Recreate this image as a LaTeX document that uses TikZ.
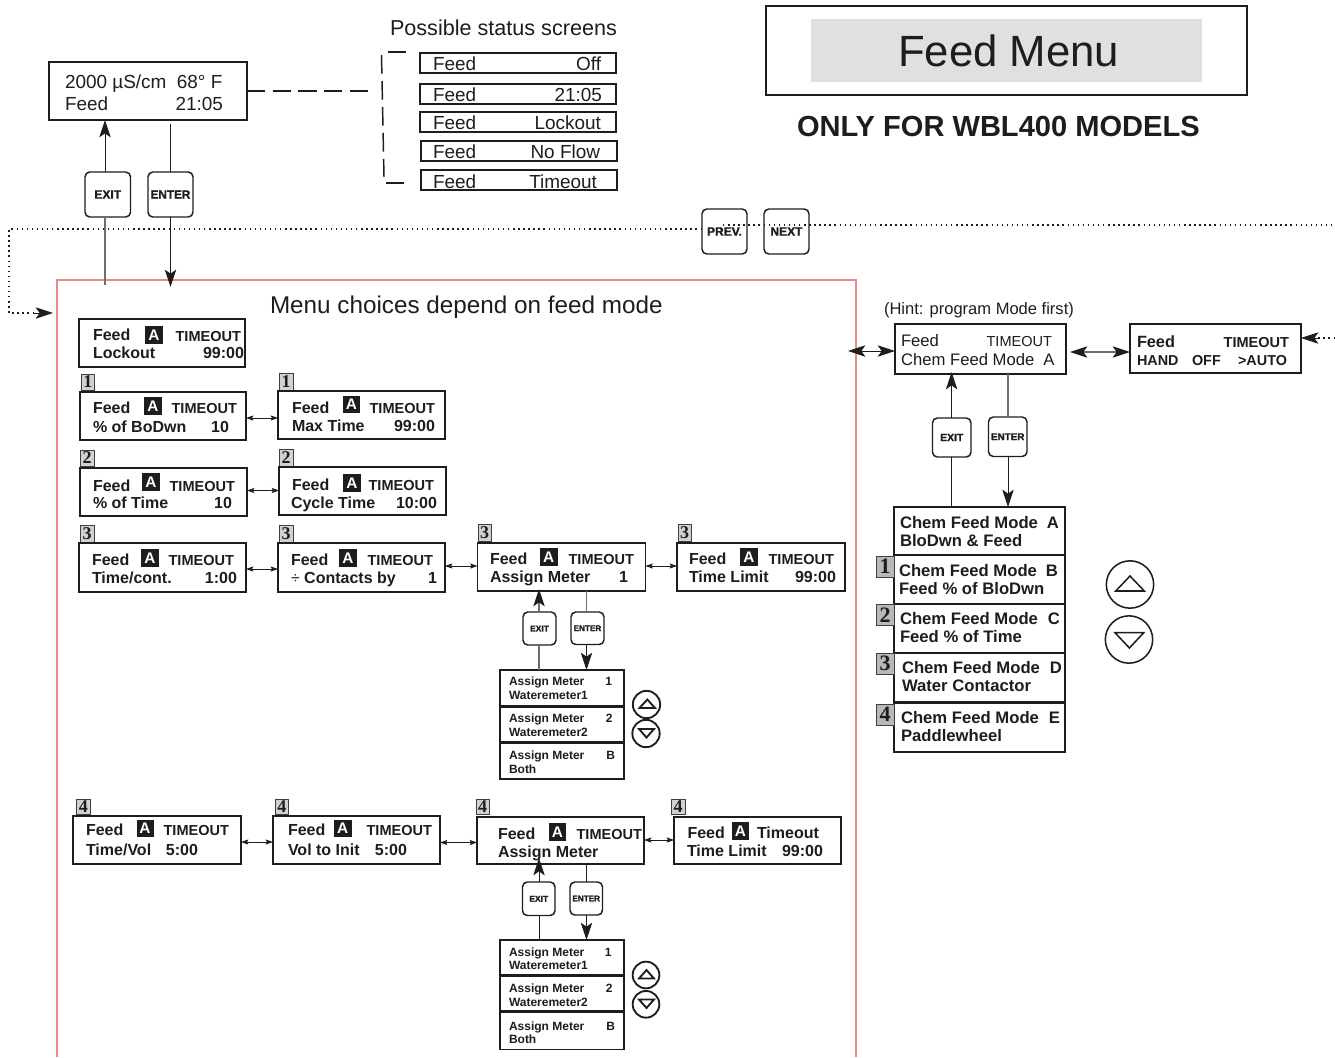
\documentclass[tikz,border=0pt]{standalone}
\usepackage{fontspec}
\setmainfont{Liberation Sans}
\newfontfamily\tagfont{Liberation Serif}
\newfontfamily\btnfont{Liberation Sans}[BoldFeatures={FakeBold=1.6}]
\usetikzlibrary{arrows.meta}
\definecolor{redbox}{HTML}{E98A86}
\definecolor{wiregray}{HTML}{6E6E6E}
\definecolor{ink}{HTML}{1E1C1C}
\newcounter{tn}
\tikzset{
  lcd/.style={draw=ink,line width=1.1pt,inset sep,anchor=north west},
  inset sep/.style={inner sep=0pt,outer sep=0pt},
  lbl/.style={inner sep=0pt,outer sep=0pt,text=ink,anchor=base west},
  rbl/.style={inner sep=0pt,outer sep=0pt,text=ink,anchor=base east},
  bt/.style={font=\fontsize{12}{12}\selectfont\bfseries},
  bs/.style={font=\fontsize{10.9}{12}\selectfont\bfseries},
  bl/.style={font=\fontsize{9}{10}\selectfont\bfseries},
  st/.style={font=\fontsize{14.2}{16}\selectfont},
  rg/.style={font=\fontsize{12.5}{14}\selectfont},
  rs/.style={font=\fontsize{10.9}{12}\selectfont},
  ch/.style={font=\fontsize{12.5}{14}\selectfont\bfseries},
  tagbox/.style={draw=ink!85,line width=.7pt,fill=black!18,inner sep=0pt,outer sep=0pt,anchor=north west,text=ink,font=\fontsize{13.5}{13.5}\selectfont\bfseries\tagfont},
  tagbig/.style={tagbox,fill=black!28,font=\fontsize{16.5}{16.5}\selectfont\bfseries\tagfont},
  chip/.style={fill=ink,text=white,inner sep=0pt,outer sep=0pt,anchor=north west,font=\fontsize{11.5}{12}\selectfont\bfseries},
  btnbox/.style={draw=ink,line width=1.1pt,rounded corners=3.6pt,inner sep=0pt,outer sep=0pt,anchor=north west,text=ink},
  wire/.style={draw=ink,line width=.6pt},
  gwire/.style={draw=wiregray,line width=.85pt},
  bigup/.style={-{Stealth[length=13pt,width=8.5pt,inset=3pt,color=ink]}},
  bigboth/.style={{Stealth[length=13pt,width=8.5pt,inset=3pt,color=ink]}-{Stealth[length=13pt,width=8.5pt,inset=3pt,color=ink]}},
  smallboth/.style={draw=ink,line width=.6pt,{Stealth[length=5.5pt,width=3.8pt,inset=1pt]}-{Stealth[length=5.5pt,width=3.8pt,inset=1pt]}},
  dots/.style={draw=ink,line width=1.1pt,dash pattern=on 1.1pt off 2.7pt},
  longdash/.style={draw=ink,line width=1.2pt,dash pattern=on 13.6pt off 5.7pt},
  knob/.style={circle,draw=ink,inner sep=0pt,outer sep=0pt},
}
\newcommand{\Bx}[5]{\pgfmathsetmacro\wW{(#4-#2)*0.75}\pgfmathsetmacro\hH{(#5-#3)*0.75}%
  \node[lcd,minimum width=\wW pt,minimum height=\hH pt] (#1) at (#2,#3) {};}
\newcommand{\Tag}[5]{\stepcounter{tn}\pgfmathsetmacro\wW{(#3-#1)*0.75}\pgfmathsetmacro\hH{(#4-#2)*0.75}%
  \node[tagbox,minimum width=\wW pt,minimum height=\hH pt] (tag\thetn) at (#1,#2) {#5};}
\newcommand{\TagB}[5]{\stepcounter{tn}\pgfmathsetmacro\wW{(#3-#1)*0.75}\pgfmathsetmacro\hH{(#4-#2)*0.75}%
  \node[tagbig,minimum width=\wW pt,minimum height=\hH pt] (tag\thetn) at (#1,#2) {#5};}
\newcommand{\Chip}[4]{\stepcounter{tn}\pgfmathsetmacro\wW{(#3-#1)*0.75}\pgfmathsetmacro\hH{(#4-#2)*0.75}%
  \node[chip,minimum width=\wW pt,minimum height=\hH pt] (chip\thetn) at (#1,#2) {A};}
\newcommand{\Btn}[7]{\pgfmathsetmacro\wW{(#4-#2)*0.75}\pgfmathsetmacro\hH{(#5-#3)*0.75}%
  \node[btnbox,minimum width=\wW pt,minimum height=\hH pt,font=\btnfont\fontsize{#7}{#7}\selectfont\bfseries] (#1) at (#2,#3) {#6};}
\newcommand{\Lt}[4]{\stepcounter{tn}\node[lbl,#3] (t\thetn) at (#1,#2) {#4};}
\newcommand{\Rt}[4]{\stepcounter{tn}\node[rbl,#3] (t\thetn) at (#1,#2) {#4};}
\begin{document}
\begin{tikzpicture}[x=0.75pt,y=-0.75pt]
\useasboundingbox (0,0) rectangle (1335,1057);
% title block
\node[draw=ink,line width=1.1pt,minimum width=360.75pt,minimum height=66.75pt,inner sep=0pt,outer sep=0pt,anchor=north west] (titlebox) at (766,6) {};
\node[fill=black!12,minimum width=293.25pt,minimum height=47.25pt,inner sep=0pt,outer sep=0pt,anchor=north west] (titlefill) at (811,19) {};
\node[lbl,font=\fontsize{32.8}{34}\selectfont] (titletext) at (898,66) {Feed Menu};
\node[lbl,font=\fontsize{21.8}{24}\selectfont\bfseries] (only) at (797,136) {ONLY FOR WBL400 MODELS};
% status screen
\Bx{top}{49}{62}{247}{120}
\Lt{65}{88}{st}{2000 µS/cm\ \ 68° F}
\Lt{65}{110}{st}{Feed}
\Rt{223}{110}{st}{21:05}
\Lt{390}{35}{font=\fontsize{16.2}{18}\selectfont}{Possible status screens}
\Bx{s1}{420}{53}{616}{73}\Lt{433}{70}{st}{Feed}\Rt{601}{70}{st}{Off}
\Bx{s2}{420}{84}{616}{104}\Lt{433}{101}{st}{Feed}\Rt{602}{101}{st}{21:05}
\Bx{s3}{420}{112}{616}{132}\Lt{433}{129}{st}{Feed}\Rt{601}{129}{st}{Lockout}
\Bx{s4}{421}{141}{617}{161}\Lt{433}{158}{st}{Feed}\Rt{600}{158}{st}{No Flow}
\Bx{s5}{421}{170}{617}{190}\Lt{433}{188}{st}{Feed}\Rt{597}{188}{st}{Timeout}
% bracket
\coordinate (brTopA) at (388,52);\coordinate (brTopB) at (406,52);
\coordinate (brV1) at (381.5,55);\coordinate (brV2) at (384,177);
\coordinate (brBotA) at (386,183);\coordinate (brBotB) at (404,183);
\coordinate (brMid) at (370,91);
\draw[draw=ink,line width=1.2pt] (brTopA)--(brTopB);
\draw[draw=ink,line width=1.2pt] (brBotA)--(brBotB);
\draw[draw=ink,line width=1.1pt,dash pattern=on 14pt off 5.5pt] (brV1)--(brV2);
\draw[longdash] (top.east |- 0,91) -- (brMid);
% top buttons
\Btn{ex1}{85}{172}{130.5}{217}{EXIT}{9}
\Btn{en1}{148}{172}{193}{217}{ENTER}{8.8}
\draw[wire,bigup] (ex1.north -| 105,0) -- (top.south -| 105,0);
\draw[wire] (en1.north -| 170.5,0) -- (170.5,124);
% menu frame
\coordinate (fBL) at (57,1057);\coordinate (fTL) at (57,280);\coordinate (fTR) at (856,280);\coordinate (fBR) at (856,1057);
\draw[draw=redbox,line width=1pt] (fBL)--(fTL)--(fTR)--(fBR);
\coordinate (exEnd) at (105,285);\coordinate (enEnd) at (170.5,287);
\draw[gwire] (ex1.south -| exEnd) -- (exEnd);
\draw[wire,bigup] (en1.south -| enEnd) -- (enEnd);
\Lt{270}{313}{font=\fontsize{18.2}{20}\selectfont}{Menu choices depend on feed mode}
% PREV NEXT and dotted bus
\Btn{prev}{702}{209}{747}{254}{PREV.}{9}
\Btn{next}{764}{209}{809}{254}{NEXT}{9}
\coordinate (dotL) at (9,229);\coordinate (dotD) at (9,313);\coordinate (dotA) at (53,313);
\draw[dots] (prev.west |- 0,229) -- (dotL) -- (dotD) -- (36,313);
\draw[draw=ink,line width=.5pt,bigup] (34,313) -- (dotA);
\coordinate (dotR) at (1335,225);\coordinate (dotS) at (723,225);
\draw[dots] (dotS) -- (dotR);
% lockout
\Bx{m0}{79}{319}{245}{367}
\Lt{93}{340}{bt}{Feed}\Chip{145}{326}{163}{344}\Rt{241}{341}{bs}{TIMEOUT}
\Lt{93}{358}{bt}{Lockout}\Rt{244}{358}{bt}{99:00}
% row 1
\Tag{81}{374}{94.5}{390}{1}
\Bx{a1}{80}{392}{246}{440}
\Lt{93}{413}{bt}{Feed}\Chip{144}{397}{162}{415}\Rt{237}{413}{bs}{TIMEOUT}
\Lt{93}{432}{bt}{\% of BoDwn}\Rt{229}{432}{bt}{10}
\Tag{279}{373}{293}{390}{1}
\Bx{b1}{278}{391}{445}{439}
\Lt{292}{413}{bt}{Feed}\Chip{343}{396}{360}{413}\Rt{435}{413}{bs}{TIMEOUT}
\Lt{292}{431}{bt}{Max Time}\Rt{435}{431}{bt}{99:00}
\draw[smallboth] (a1.east |- 0,418) -- (b1.west |- 0,418);
% row 2
\Tag{80}{450}{94}{466}{2}
\Bx{a2}{80}{468}{247}{516}
\Lt{93}{491}{bt}{Feed}\Chip{142}{473}{160}{491}\Rt{235}{491}{bs}{TIMEOUT}
\Lt{93}{508}{bt}{\% of Time}\Rt{232}{508}{bt}{10}
\Tag{279}{449}{293}{466}{2}
\Bx{b2}{279}{467}{446}{515}
\Lt{292}{490}{bt}{Feed}\Chip{343}{474}{361}{492}\Rt{434}{490}{bs}{TIMEOUT}
\Lt{291}{508}{bt}{Cycle Time}\Rt{437}{508}{bt}{10:00}
\draw[smallboth] (a2.east |- 0,490.5) -- (b2.west |- 0,490.5);
% row 3
\Tag{80}{525}{94}{542}{3}
\Bx{a3}{79}{543}{246}{592}
\Lt{92}{565}{bt}{Feed}\Chip{141}{549}{159}{567}\Rt{234}{565}{bs}{TIMEOUT}
\Lt{92}{583}{bt}{Time/cont.}\Rt{237}{583}{bt}{1:00}
\Tag{279}{525}{293}{542}{3}
\Bx{b3}{278}{543}{445}{592}
\Lt{291}{565}{bt}{Feed}\Chip{339}{549}{357}{567}\Rt{433}{565}{bs}{TIMEOUT}
\Lt{291}{583}{bt}{{\mdseries ÷} Contacts by}\Rt{437}{583}{bt}{1}
\Tag{478}{524}{491}{541}{3}
\Bx{c3}{477.5}{543}{645.5}{591}
\Lt{490}{564}{bt}{Feed}\Chip{539.5}{548}{558}{566}\Rt{634}{564}{bs}{TIMEOUT}
\Lt{490}{582}{bt}{Assign Meter}\Rt{628}{582}{bt}{1}
\Tag{678}{524}{691}{541}{3}
\Bx{d3}{677}{543}{845}{591}
\Lt{689}{564}{bt}{Feed}\Chip{740}{548}{758}{566}\Rt{834}{564}{bs}{TIMEOUT}
\Lt{689}{582}{bt}{Time Limit}\Rt{836}{582}{bt}{99:00}
\draw[smallboth] (a3.east |- 0,569) -- (b3.west |- 0,569);
\draw[smallboth] (b3.east |- 0,566) -- (c3.west |- 0,566);
\draw[smallboth] (c3.east |- 0,566) -- (d3.west |- 0,566);
% row 3 sub menu
\Btn{ex3}{523}{612}{556}{645}{EXIT}{6.4}
\Btn{en3}{571}{612}{604}{644.5}{ENTER}{6.1}
\Bx{l31}{500}{670}{624}{705.5}
\Lt{509}{685}{bl}{Assign Meter}\Rt{612}{685}{bl}{1}\Lt{509}{699}{bl}{Wateremeter1}
\Bx{l32}{500}{707}{624}{742}
\Lt{509}{722}{bl}{Assign Meter}\Rt{612.5}{722}{bl}{2}\Lt{509}{736}{bl}{Wateremeter2}
\Bx{l33}{500}{743.5}{624}{779}
\Lt{509}{759}{bl}{Assign Meter}\Rt{615}{759}{bl}{B}\Lt{509}{773}{bl}{Both}
\draw[gwire,bigup] (ex3.north -| 539,0) -- (539,589);
\draw[gwire] (ex3.south -| 539,0) -- (l31.north -| 539,0);
\draw[gwire] (c3.south -| 586.5,0) -- (en3.north -| 586.5,0);
\draw[wire,bigup] (en3.south -| 586.5,0) -- (l31.north -| 586.5,0);
\node[knob,line width=1.4pt,minimum size=20.5pt] (up3) at (646.5,704.5) {};
\node[knob,line width=1.4pt,minimum size=20.5pt] (dn3) at (646,733.5) {};
\draw[draw=ink,line width=1.4pt,line join=miter] (639.5,708)--(647.3,699.5)--(655,708)--cycle;
\draw[draw=ink,line width=1.4pt,line join=miter] (639,729)--(646.5,737.5)--(654,729)--cycle;
% row 4
\Tag{76}{799}{90.5}{814}{4}
\Bx{a4}{73}{816}{241}{864}
\Lt{86}{835}{bt}{Feed}\Chip{136.5}{820}{153.5}{837}\Rt{229}{835}{bs}{TIMEOUT}
\Lt{86}{855}{bt}{Time/Vol}\Rt{198}{855}{bt}{5:00}
\Tag{275}{799}{288.5}{814}{4}
\Bx{b4}{273}{816}{440}{864}
\Lt{288}{835}{bt}{Feed}\Chip{334}{820}{351.5}{837}\Rt{432}{835}{bs}{TIMEOUT}
\Lt{288}{855}{bt}{Vol to Init}\Rt{407}{855}{bt}{5:00}
\Tag{476}{799}{489}{814}{4}
\Bx{c4}{477}{817}{644}{864}
\Lt{498}{839}{bt}{Feed}\Chip{549}{823}{566}{841}\Rt{642}{839}{bs}{TIMEOUT}
\Lt{498}{857}{bt}{Assign Meter}
\Tag{671}{799}{685}{814}{4}
\Bx{d4}{674}{817}{841}{864}
\Lt{687.5}{838}{bt}{Feed}\Chip{732}{822}{749}{840}\Lt{757}{838}{bt}{Timeout}
\Lt{687}{856}{bt}{Time Limit}\Rt{823}{856}{bt}{99:00}
\draw[smallboth] (a4.east |- 0,842) -- (b4.west |- 0,842);
\draw[smallboth] (b4.east |- 0,842.5) -- (c4.west |- 0,842.5);
\draw[smallboth] (c4.east |- 0,840) -- (d4.west |- 0,840);
\Btn{ex4}{522.5}{882}{555}{915.5}{EXIT}{6.4}
\Btn{en4}{570}{882}{602.5}{915}{ENTER}{6.1}
\Bx{l41}{500}{940}{624}{975}
\Lt{509}{956}{bl}{Assign Meter}\Rt{611.5}{956}{bl}{1}\Lt{509}{969}{bl}{Wateremeter1}
\Bx{l42}{500}{976.5}{624}{1011}
\Lt{509}{992}{bl}{Assign Meter}\Rt{612.5}{992}{bl}{2}\Lt{509}{1006}{bl}{Wateremeter2}
\Bx{l43}{500}{1012.5}{624}{1049.5}
\Lt{509}{1030}{bl}{Assign Meter}\Rt{615}{1030}{bl}{B}\Lt{509}{1043}{bl}{Both}
\draw[wire,bigup] (ex4.north -| 539,0) -- (539,858);
\draw[wire] (ex4.south -| 539,0) -- (l41.north -| 539,0);
\draw[wire] (c4.south -| 586.5,0) -- (en4.north -| 586.5,0);
\draw[wire,bigup] (en4.south -| 586.5,0) -- (l41.north -| 586.5,0);
\node[knob,line width=1.4pt,minimum size=20pt] (up4) at (646,975) {};
\node[knob,line width=1.4pt,minimum size=20pt] (dn4) at (646,1004.3) {};
\draw[draw=ink,line width=1.4pt] (639,978.5)--(646.5,970)--(654,978.5)--cycle;
\draw[draw=ink,line width=1.4pt] (639,999.5)--(646.5,1008)--(654,999.5)--cycle;
% right: hint + mode
\Lt{884}{314}{font=\fontsize{12.4}{14}\selectfont}{(Hint: program Mode first)}
\Bx{mode}{895}{324}{1066}{374}
\Lt{901}{346.5}{rg}{Feed}\Rt{1052}{346.5}{rs}{TIMEOUT}
\Lt{901}{365}{rg}{Chem Feed Mode}\Rt{1054.5}{365}{rg}{A}
\Bx{hand}{1130}{324}{1301}{373}
\Lt{1137}{347}{font=\fontsize{12.2}{14}\selectfont\bfseries}{Feed}\Rt{1289}{347}{bs}{TIMEOUT}
\Lt{1137}{365}{font=\fontsize{10.8}{12}\selectfont\bfseries}{HAND}
\Lt{1192}{365}{font=\fontsize{10.8}{12}\selectfont\bfseries}{OFF}
\Rt{1287}{365}{font=\fontsize{10.8}{12}\selectfont\bfseries}{>AUTO}
\coordinate (leftTip) at (848,351);
\draw[wire,bigboth] (leftTip) -- (mode.west |- leftTip);
\draw[gwire,bigboth] (1070,352) -- (hand.west |- 0,352);
\coordinate (rightDotEnd) at (1335,338);\coordinate (rightDotStart) at (1318,338);
\draw[dots] (rightDotEnd) -- (rightDotStart);
\draw[draw=ink,line width=.5pt,bigup] (rightDotStart) -- (hand.east |- rightDotStart);
\Btn{ex5}{932.5}{418}{971}{457}{EXIT}{7.8}
\Btn{en5}{988.5}{417}{1027}{456.5}{ENTER}{7.4}
\Bx{c0}{894}{507}{1065}{555}
\Lt{900}{528}{ch}{Chem Feed Mode}\Rt{1059}{528}{ch}{A}\Lt{900}{546}{ch}{BloDwn \& Feed}
\Bx{c1}{894}{555.5}{1065}{603.5}
\Lt{899}{576.2}{ch}{Chem Feed Mode}\Rt{1058}{576.2}{ch}{B}\Lt{899}{594.5}{ch}{Feed \% of BloDwn}
\Bx{c2}{894}{604}{1065}{652.5}
\Lt{900}{624.2}{ch}{Chem Feed Mode}\Rt{1060}{624.2}{ch}{C}\Lt{900}{642.7}{ch}{Feed \% of Time}
\Bx{c3b}{894}{653}{1065}{701.5}
\Lt{902}{673.2}{ch}{Chem Feed Mode}\Rt{1062}{673.2}{ch}{D}\Lt{902}{691.7}{ch}{Water Contactor}
\Bx{c4b}{894}{703}{1065}{752}
\Lt{901}{723.2}{ch}{Chem Feed Mode}\Rt{1060}{723.2}{ch}{E}\Lt{901}{741.7}{ch}{Paddlewheel}
\TagB{876}{556}{894}{577}{1}
\TagB{876}{604}{894}{625.5}{2}
\TagB{876}{653}{894}{674}{3}
\TagB{876}{704}{894}{725}{4}
\draw[wire,bigup] (ex5.north -| 951.6,0) -- (951.6,372);
\draw[wire] (ex5.south -| 951.6,0) -- (c0.north -| 951.6,0);
\draw[gwire] (mode.south -| 1008,0) -- (en5.north -| 1008,0);
\draw[wire,bigup] (en5.south -| 1008,0) -- (c0.north -| 1008,0);
\node[knob,line width=1.15pt,minimum size=35.5pt] (upR) at (1130,584.5) {};
\node[knob,line width=1.15pt,minimum size=35.5pt] (dnR) at (1129,639.5) {};
\draw[draw=ink,line width=1.15pt] (1115.7,591)--(1130,576)--(1144.3,591)--cycle;
\draw[draw=ink,line width=1.15pt] (1115,632.7)--(1129.4,648)--(1143.7,632.7)--cycle;
\end{tikzpicture}
\end{document}
